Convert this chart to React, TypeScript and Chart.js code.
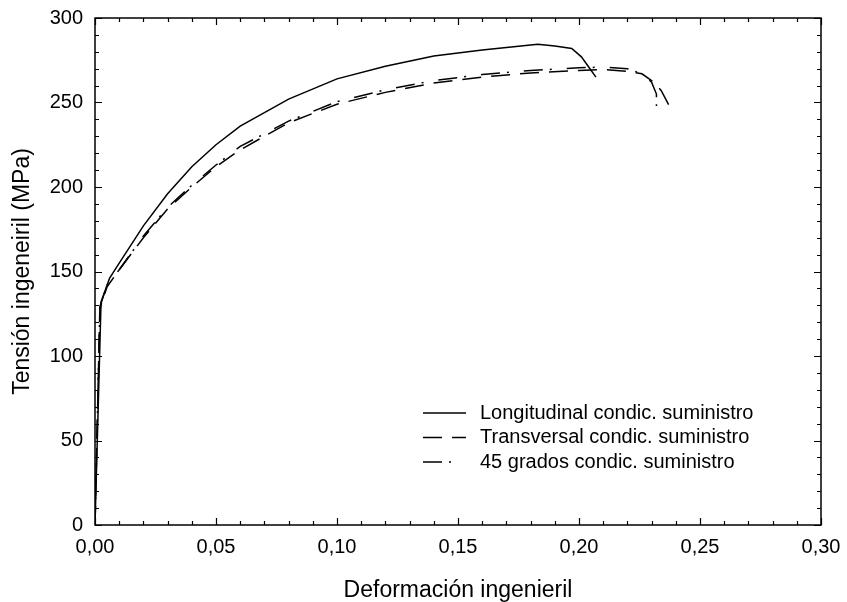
import React, { useEffect, useRef } from 'react';
import { Chart, registerables } from 'chart.js';

Chart.register(...registerables);

const FONT = '"Liberation Sans", Arial, Helvetica, sans-serif';

const seriesLabels = [
  'Longitudinal condic. suministro',
  'Transversal condic. suministro',
  '45 grados condic. suministro',
];

const longStrain = [0, 0.0025, 0.006, 0.01, 0.02, 0.03, 0.04, 0.05, 0.06, 0.08, 0.10, 0.12, 0.14, 0.16, 0.18, 0.183, 0.19, 0.197, 0.201, 0.204, 0.207];
const longStress = [0, 132, 146, 155, 177, 196, 212, 225, 236, 252, 264, 271.5, 277.5, 281, 284, 284.5, 283.5, 282, 277, 271, 265];

const transStrain = [0, 0.002, 0.005, 0.01, 0.02, 0.03, 0.04, 0.05, 0.06, 0.08, 0.10, 0.12, 0.14, 0.16, 0.18, 0.20, 0.21, 0.22, 0.226, 0.231, 0.234, 0.238];
const transStress = [0, 128, 141, 151, 170, 187, 200, 212, 222, 238, 249, 256, 261.5, 265, 267.5, 269, 269.5, 268.5, 267, 262, 257, 246];

const degStrain = [0, 0.002, 0.005, 0.01, 0.02, 0.03, 0.04, 0.05, 0.06, 0.08, 0.10, 0.12, 0.14, 0.16, 0.18, 0.20, 0.21, 0.22, 0.226, 0.23, 0.232, 0.232];
const degStress = [0, 129, 142, 151, 171, 188, 201, 213, 224, 239, 250.5, 257.5, 263, 266.5, 269, 270.5, 271, 270, 267, 262, 255, 248];

const xTickValues = [0, 0.05, 0.1, 0.15, 0.2, 0.25, 0.3];
const yTickValues = [0, 50, 100, 150, 200, 250, 300];

const dashes: number[][] = [[], [19, 10], [19, 7, 2, 15]];

const toPts = (xs: number[], ys: number[]) => xs.map((x, i) => ({ x, y: ys[i] }));

const framePlugin = {
  id: 'frameTicks',
  afterDraw(chart: any) {
    const { ctx, chartArea } = chart;
    const { left, right, top, bottom } = chartArea;
    const xs = chart.scales.x;
    const ys = chart.scales.y;
    ctx.save();
    ctx.strokeStyle = '#000';
    ctx.lineWidth = 1.5;
    ctx.setLineDash([]);
    ctx.strokeRect(left, top, right - left, bottom - top);
    ctx.lineWidth = 1.2;
    ctx.beginPath();
    for (let i = 0; i <= 30; i++) {
      const v = i / 100;
      const px = Math.round(xs.getPixelForValue(v)) + 0.5;
      const len = i % 5 === 0 ? 7 : 4;
      ctx.moveTo(px, bottom);
      ctx.lineTo(px, bottom - len);
      ctx.moveTo(px, top);
      ctx.lineTo(px, top + len);
    }
    for (let i = 0; i <= 30; i++) {
      const v = i * 10;
      const py = Math.round(ys.getPixelForValue(v)) + 0.5;
      const len = i % 5 === 0 ? 7 : 4;
      ctx.moveTo(left, py);
      ctx.lineTo(left + len, py);
      ctx.moveTo(right, py);
      ctx.lineTo(right - len, py);
    }
    ctx.stroke();

    // legend
    const lx0 = left + 328;
    const lx1 = left + 371;
    const tx = left + 385;
    const rows = [bottom - 112, bottom - 87.5, bottom - 63];
    ctx.font = `20px ${FONT}`;
    ctx.textBaseline = 'middle';
    ctx.textAlign = 'left';
    ctx.fillStyle = '#000';
    chart.data.datasets.forEach((ds: any, i: number) => {
      ctx.beginPath();
      ctx.lineWidth = 1.4;
      ctx.setLineDash(ds.borderDash || []);
      ctx.moveTo(lx0, rows[i]);
      ctx.lineTo(lx1, rows[i]);
      ctx.stroke();
      ctx.setLineDash([]);
      ctx.fillText(ds.label, tx, rows[i]);
    });
    ctx.restore();
  },
};

export default function App() {
  const ref = useRef<HTMLCanvasElement | null>(null);

  useEffect(() => {
    document.body.style.margin = '0';
    const canvas = ref.current;
    if (!canvas) return;
    const chart = new Chart(canvas, {
      type: 'line',
      data: {
        datasets: [
          { label: seriesLabels[0], data: toPts(longStrain, longStress), borderDash: dashes[0] },
          { label: seriesLabels[1], data: toPts(transStrain, transStress), borderDash: dashes[1] },
          { label: seriesLabels[2], data: toPts(degStrain, degStress), borderDash: dashes[2] },
        ].map((d) => ({
          ...d,
          borderColor: '#000',
          backgroundColor: '#000',
          borderWidth: 1.5,
          pointRadius: 0,
          tension: 0,
          fill: false,
        })),
      },
      options: {
        responsive: false,
        animation: false,
        devicePixelRatio: 1,
        parsing: false,
        layout: { padding: { left: 0, top: 18, right: 26, bottom: 0 } },
        plugins: {
          legend: { display: false },
          tooltip: { enabled: false },
          title: { display: false },
        },
        scales: {
          x: {
            type: 'linear',
            min: 0,
            max: 0.3,
            afterFit: (s: any) => { s.height = 77; s.paddingLeft = 0; s.paddingRight = 0; s.paddingTop = 0; s.paddingBottom = 0; },
            afterBuildTicks: (s: any) => { s.ticks = xTickValues.map((v) => ({ value: v })); },
            grid: { display: false, drawTicks: false },
            border: { display: false },
            ticks: {
              color: '#000',
              font: { family: FONT, size: 20 },
              padding: 10,
              maxRotation: 0,
              autoSkip: false,
              callback: (v: any) => Number(v).toFixed(2).replace('.', ','),
            },
            title: {
              display: true,
              text: 'Deformación ingenieril',
              color: '#000',
              font: { family: FONT, size: 23, lineHeight: 1 },
              padding: { top: 0, bottom: 0 },
            },
          },
          y: {
            type: 'linear',
            min: 0,
            max: 300,
            afterFit: (s: any) => { s.width = 95; s.paddingLeft = 0; s.paddingRight = 0; s.paddingTop = 0; s.paddingBottom = 0; },
            afterBuildTicks: (s: any) => { s.ticks = yTickValues.map((v) => ({ value: v })); },
            grid: { display: false, drawTicks: false },
            border: { display: false },
            ticks: {
              color: '#000',
              font: { family: FONT, size: 20 },
              padding: 12,
              autoSkip: false,
              callback: (v: any) => String(v),
            },
            title: {
              display: true,
              text: 'Tensión ingeneiril (MPa)',
              color: '#000',
              font: { family: FONT, size: 23, lineHeight: 1 },
              padding: { top: 11, bottom: 0 },
            },
          },
        },
      },
      plugins: [framePlugin],
    });
    return () => chart.destroy();
  }, []);

  return (
    <div style={{ position: 'absolute', left: 0, top: 0, width: 847, height: 602, background: '#fff' }}>
      <canvas ref={ref} width={847} height={602} style={{ display: 'block', width: 847, height: 602 }} />
    </div>
  );
}
